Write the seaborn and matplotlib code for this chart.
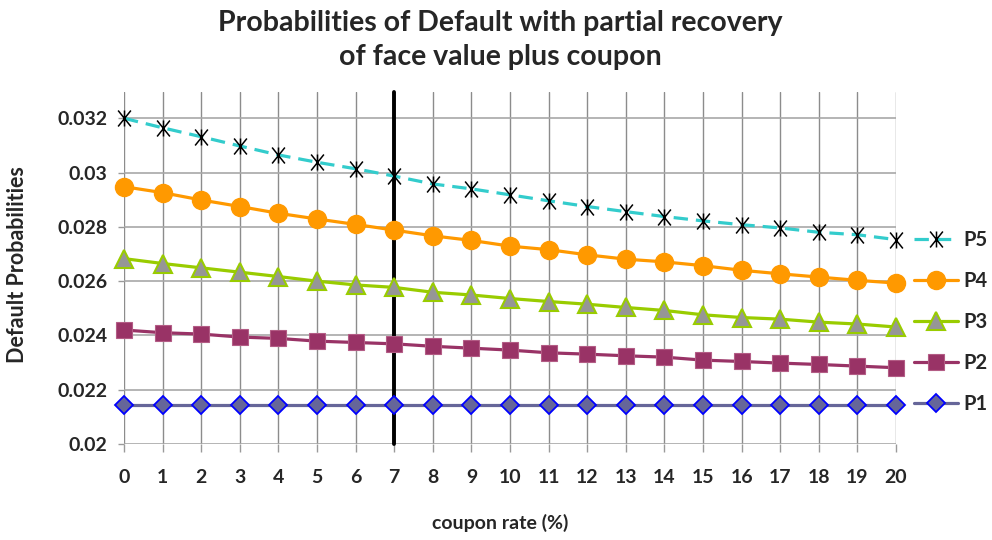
import numpy as np
import pandas as pd
import matplotlib
matplotlib.use("Agg")
import matplotlib.pyplot as plt
from matplotlib.path import Path
import seaborn as sns

# ---- data ----
coupon = list(range(0, 21))
p5 = [0.03200, 0.03165, 0.03132, 0.03098, 0.03065, 0.03038, 0.03014, 0.02987, 0.02958, 0.02940,
      0.02918, 0.02896, 0.02875, 0.02856, 0.02838, 0.02822, 0.02808, 0.02796, 0.02780, 0.02771, 0.02753]
p4 = [0.02948, 0.02926, 0.02899, 0.02875, 0.02850, 0.02829, 0.02809, 0.02788, 0.02767, 0.02750,
      0.02729, 0.02716, 0.02697, 0.02681, 0.02671, 0.02657, 0.02640, 0.02627, 0.02615, 0.02603, 0.02593]
p3 = [0.02683, 0.02665, 0.02649, 0.02633, 0.02617, 0.02600, 0.02586, 0.02577, 0.02559, 0.02549,
      0.02536, 0.02525, 0.02515, 0.02503, 0.02492, 0.02476, 0.02466, 0.02460, 0.02449, 0.02442, 0.02431]
p2 = [0.02420, 0.02410, 0.02405, 0.02394, 0.02389, 0.02379, 0.02374, 0.02369, 0.02360, 0.02353,
      0.02346, 0.02336, 0.02331, 0.02325, 0.02320, 0.02309, 0.02304, 0.02298, 0.02293, 0.02287, 0.02281]
p1 = [0.02143] * 21
series_names = ["P1", "P2", "P3", "P4", "P5"]
y_ticks = [0.02, 0.022, 0.024, 0.026, 0.028, 0.03, 0.032]
y_tick_labels = ["0.02", "0.022", "0.024", "0.026", "0.028", "0.03", "0.032"]
marked_coupon = 7
title = "Probabilities of Default with partial recovery\nof face value plus coupon"
x_label = "coupon rate (%)"
y_label = "Default Probabilities"

sns.set_theme(style="white")
plt.rcParams["font.family"] = ["Lato", "DejaVu Sans"]
plt.rcParams["font.weight"] = "bold"

fig = plt.figure(figsize=(9.92, 5.40), dpi=100)
ax = fig.add_axes([124 / 992, 1 - 444 / 540, (896 - 124) / 992, (444 - 92) / 540])

star = Path([(-0.8, -1), (0.8, 1), (-0.8, 1), (0.8, -1), (0, -1), (0, 1)],
            [Path.MOVETO, Path.LINETO, Path.MOVETO, Path.LINETO, Path.MOVETO, Path.LINETO])

styles = {
    "P1": dict(color="#666699", marker="D", ms=9.5, mfc="#666699", mec="#0000FF", mew=1.3, ls="-"),
    "P2": dict(color="#993366", marker="s", ms=11, mfc="#993366", mec="#B35C85", mew=0.8, ls="-"),
    "P3": dict(color="#99CC00", marker="^", ms=13, mfc="#969696", mec="#99CC00", mew=1.5, ls="-"),
    "P4": dict(color="#FF9900", marker="o", ms=13, mfc="#FF9900", mec="#FF9900", mew=1, ls="-"),
    "P5": dict(color="#33CCCC", marker=star, ms=11.5, mfc="black", mec="black", mew=1.1, ls=(0, (4.5, 2.5))),
}
data = {"P1": p1, "P2": p2, "P3": p3, "P4": p4, "P5": p5}

df = pd.DataFrame({"coupon": coupon, **data})

handles = {}
for name in series_names:
    st = styles[name]
    sns.lineplot(data=df, x="coupon", y=name, ax=ax, color=st["color"], linewidth=2.3,
                 linestyle=st["ls"], marker=st["marker"], markersize=st["ms"],
                 markerfacecolor=st["mfc"], markeredgecolor=st["mec"], markeredgewidth=st["mew"],
                 clip_on=False, zorder=4, legend=False)
    handles[name] = ax.lines[-1]

ax.axvline(marked_coupon, color="black", linewidth=2.8, zorder=3, clip_on=False)

ax.set_xlim(0, 20)
ax.set_ylim(0.02, 0.032 + (118.3 - 92) / 27.15 * 0.001)
ax.set_xticks(coupon)
ax.set_xticklabels([str(c) for c in coupon])
ax.set_yticks(y_ticks)
ax.set_yticklabels(y_tick_labels)
ax.xaxis.grid(True, color="#8c8c8c", linewidth=1.0)
ax.yaxis.grid(True, color="#a8a8a8", linewidth=1.2)
ax.set_axisbelow(True)
for s in ax.spines.values():
    s.set_visible(False)
ax.tick_params(axis="both", which="major", length=6, width=1.0, color="#9a9a9a",
               direction="out", labelsize=14, pad=10, bottom=True, left=True)
for lab in ax.get_xticklabels() + ax.get_yticklabels():
    lab.set_fontweight("bold")
ax.tick_params(axis="x", pad=12)
ax.tick_params(axis="y", pad=8, length=4)

ax.set_xlabel("")
ax.set_ylabel("")
fig.text(500 / 992, 1 - 523 / 540, x_label, ha="center", va="center", fontsize=14, fontweight="bold")
fig.text(18 / 992, 1 - 265 / 540, y_label, ha="center", va="center", rotation=90,
         fontsize=15.5, fontweight="bold")
fig.text(500 / 992, 1 - 40 / 540, title, ha="center", va="center", fontsize=20.5,
         fontweight="bold", linespacing=1.4)

leg_order = ["P5", "P4", "P3", "P2", "P1"]
leg = fig.legend([handles[n] for n in leg_order], leg_order, loc="center left",
                 bbox_to_anchor=(914 / 992, 1 - 322 / 540), frameon=False,
                 fontsize=14.5, handlelength=2.2, handletextpad=0.25, labelspacing=1.04,
                 borderpad=0, borderaxespad=0)
for t in leg.get_texts():
    t.set_fontweight("bold")

fig.savefig("out.png", dpi=100)
